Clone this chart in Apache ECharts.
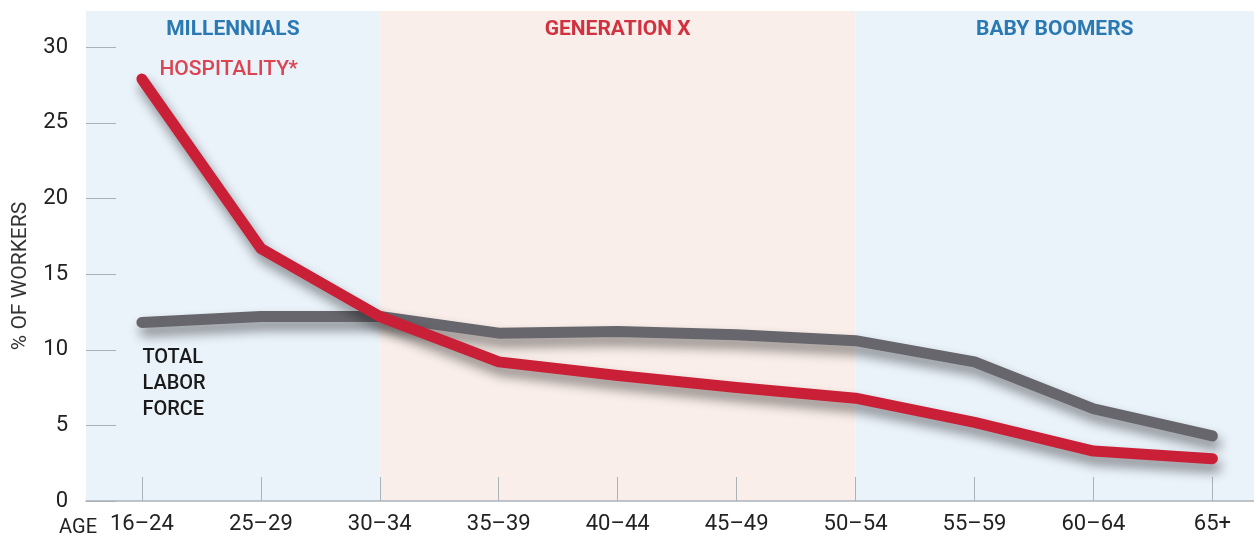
<!DOCTYPE html>
<html>
<head>
<meta charset="utf-8">
<script src="https://cdn.jsdelivr.net/npm/echarts@6/dist/echarts.min.js"></script>
<style>html,body{margin:0;padding:0;background:#fff}#c{width:1254px;height:542px}</style>
</head>
<body>
<div id="c"></div>
<script>
var categories = ['16\u201324','25\u201329','30\u201334','35\u201339','40\u201344','45\u201349','50\u201354','55\u201359','60\u201364','65+'];
var hospitality = [27.9, 16.7, 12.2, 9.2, 8.3, 7.5, 6.8, 5.2, 3.3, 2.8];
var totalLabor = [11.8, 12.2, 12.2, 11.1, 11.2, 11.0, 10.6, 9.2, 6.1, 4.3];
var yTicks = [0, 5, 10, 15, 20, 25, 30];
var generations = [
  {name: 'MILLENNIALS', from: -0.47, to: 2, color: '#eaf2fa', text: '#2a79b3'},
  {name: 'GENERATION X', from: 2, to: 6, color: '#f9eee9', text: '#d2323f'},
  {name: 'BABY BOOMERS', from: 6, to: 9.35, color: '#eaf2fa', text: '#2a79b3'}
];
var FONT = 'Roboto';

function toData(arr, labelCfg) {
  return arr.map(function (v, i) {
    var d = {value: [i, v]};
    if (i === 0 && labelCfg) d.label = labelCfg;
    return d;
  });
}

var chart = echarts.init(document.getElementById('c'), null, {renderer: 'canvas'});
chart.setOption({
  backgroundColor: '#ffffff',
  animation: false,
  grid: {left: 86, right: 0, top: 11, bottom: 41, containLabel: false},
  xAxis: {
    type: 'value',
    min: -0.47,
    max: 9.35,
    name: 'AGE',
    nameLocation: 'start',
    nameGap: -11,
    nameTextStyle: {fontFamily: FONT, fontSize: 20, color: '#222', verticalAlign: 'top', padding: [17, 0, 0, 0]},
    splitLine: {show: false},
    axisLine: {show: true, onZero: false, lineStyle: {color: '#aab2ba', width: 1.5}},
    axisTick: {show: true, inside: true, length: 24, customValues: categories.map(function (c, i) { return i; }), lineStyle: {color: '#aab2ba', width: 1}},
    axisLabel: {
      customValues: categories.map(function (c, i) { return i; }),
      formatter: function (v) { return categories[Math.round(v)]; },
      fontFamily: FONT, fontSize: 22, color: '#222', margin: 12
    }
  },
  yAxis: {
    type: 'value',
    min: 0,
    max: 32.4,
    name: '% OF WORKERS',
    nameLocation: 'middle',
    nameGap: 55,
    nameTextStyle: {fontFamily: FONT, fontSize: 21, color: '#333', padding: [0, 40, 0, 0]},
    splitLine: {show: false},
    axisLine: {show: false, onZero: false},
    axisTick: {show: true, inside: true, length: 30, customValues: yTicks, lineStyle: {color: '#a9b1b8', width: 1}},
    axisLabel: {customValues: yTicks, fontFamily: FONT, fontSize: 22, color: '#222', margin: 18}
  },
  series: [
    {
      name: 'TOTAL LABOR FORCE',
      type: 'line',
      z: 3,
      symbol: 'circle',
      symbolSize: 1,
      showSymbol: true,
      itemStyle: {color: '#67666c'},
      lineStyle: {color: '#67666c', width: 11, cap: 'round', join: 'round',
        shadowBlur: 12, shadowColor: 'rgba(0,0,0,0.45)', shadowOffsetX: 3, shadowOffsetY: 8},
      data: toData(totalLabor, {
        show: true, formatter: 'TOTAL\nLABOR\nFORCE', position: [1, 23], align: 'left', verticalAlign: 'top',
        fontFamily: FONT, fontSize: 20, fontWeight: 500, lineHeight: 26, color: '#1a1a1a'
      }),
      markArea: {
        silent: true,
        z: 0,
        data: generations.map(function (g) {
          return [
            {xAxis: g.from, yAxis: 0, itemStyle: {color: g.color}, label: {show: true, position: 'insideTop', distance: 8, formatter: g.name, color: g.text, fontFamily: FONT, fontSize: 21, fontWeight: 'bold'}},
            {xAxis: g.to, yAxis: 32.4}
          ];
        })
      }
    },
    {
      name: 'HOSPITALITY*',
      type: 'line',
      z: 4,
      symbol: 'circle',
      symbolSize: 1,
      showSymbol: true,
      itemStyle: {color: '#c91f37'},
      lineStyle: {color: '#c91f37', width: 11, cap: 'round', join: 'round',
        shadowBlur: 12, shadowColor: 'rgba(0,0,0,0.45)', shadowOffsetX: 3, shadowOffsetY: 8},
      data: toData(hospitality, {
        show: true, formatter: 'HOSPITALITY*', position: [18, -19], align: 'left', verticalAlign: 'top',
        fontFamily: FONT, fontSize: 21, fontWeight: 500, lineHeight: 21, color: '#db4450'
      })
    }
  ]
});
</script>
</body>
</html>
